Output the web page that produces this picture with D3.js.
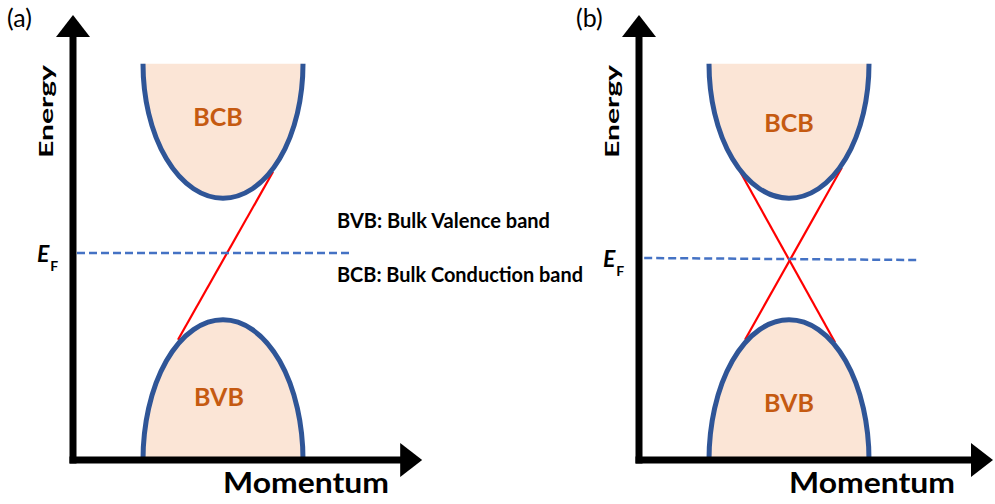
<!DOCTYPE html>
<html>
<head>
<meta charset="utf-8">
<script src="https://cdn.jsdelivr.net/npm/d3@7"></script>
<style>
  body { margin: 0; background: #fff; }
  svg { display: block; font-family: Lato, "Open Sans", sans-serif; }
</style>
</head>
<body>
<div id="chart"></div>
<script>
// schematic band structure, energy / momentum in arbitrary units
var panelLabels = ["(a)", "(b)"];
var axisTitles = ["Energy", "Momentum"];
var bandNames = ["BCB", "BVB"];
var notes = ["BVB: Bulk Valence band", "BCB: Bulk Conduction band"];

var momentumMin = -1.875;
var momentumMax = [2.49, 2.55];      // arrow tips of the two panels
var energyMin = -2.5125, energyMax = 3.05;

var conductionBand = [2.44, 0.76];   // [rim energy, band minimum]
var valenceBand = [-2.5125, -0.76];  // [base energy, band maximum]
var bandHalfWidth = 1;

// Fermi level, [k0, E0, k1, E1] per panel
var fermiLevel = [[-1.825, 0.075, 1.61, 0.075], [-1.81, 0.0125, 1.6, -0.0125]];

// surface states (red), [panel, k0, E0, k1, E1]
var surfaceStates = [
  [0, -0.5625, -1.01, 0.625, 1.09],
  [1, -0.61, 1.09, 0.575, -1.04],
  [1, 0.66, 1.14, -0.55, -1.01]
];

var width = 995, height = 504;
var svg = d3.select("#chart").append("svg")
  .attr("width", width)
  .attr("height", height);

var origins = [73, 639];
var unit = 80;
var fontBold = 700;

panelLabels.forEach(function(label, p) {
  var ox = origins[p];
  var x = d3.scaleLinear()
    .domain([momentumMin, momentumMax[p]])
    .range([ox, ox + unit * (momentumMax[p] - momentumMin)]);
  var y = d3.scaleLinear()
    .domain([energyMin, energyMax])
    .range([460, 15]);
  var g = svg.append("g");

  // surface states
  g.selectAll("line.ss")
    .data(surfaceStates.filter(function(d) { return d[0] === p; }))
    .enter().append("line")
      .attr("class", "ss")
      .attr("x1", function(d) { return x(d[1]); })
      .attr("y1", function(d) { return y(d[2]); })
      .attr("x2", function(d) { return x(d[3]); })
      .attr("y2", function(d) { return y(d[4]); })
      .attr("stroke", "#ff0000")
      .attr("stroke-width", 2.2);

  // fermi level
  var f = fermiLevel[p];
  g.append("line")
    .attr("x1", x(f[0])).attr("y1", y(f[1]))
    .attr("x2", x(f[2])).attr("y2", y(f[3]))
    .attr("stroke", "#4472c4")
    .attr("stroke-width", 2.5)
    .attr("stroke-dasharray", "8,4");

  // bands as half ellipses
  var cx = x(0), rx = x(bandHalfWidth) - x(0);
  var cbY = y(conductionBand[0]), cbR = y(conductionBand[1]) - cbY;
  var vbY = y(valenceBand[0]), vbR = vbY - y(valenceBand[1]);
  var cbPath = "M" + (cx - rx) + "," + cbY + " A" + rx + "," + cbR + " 0 0 0 " + (cx + rx) + "," + cbY;
  var vbPath = "M" + (cx - rx) + "," + vbY + " A" + rx + "," + vbR + " 0 0 1 " + (cx + rx) + "," + vbY;
  [cbPath, vbPath].forEach(function(d) {
    g.append("path").attr("d", d + " Z").attr("fill", "#fbe5d6");
    g.append("path").attr("d", d).attr("fill", "none")
      .attr("stroke", "#2f5597").attr("stroke-width", 5);
  });

  // band labels
  g.append("text")
    .attr("x", cx - (p === 0 ? 5 : 0)).attr("y", (p === 0 ? 117 : 123) + 9)
    .attr("text-anchor", "middle")
    .attr("font-size", 25).attr("font-weight", fontBold)
    .attr("fill", "#c55a11")
    .text(bandNames[0]);
  g.append("text")
    .attr("x", cx - (p === 0 ? 4 : 0)).attr("y", (p === 0 ? 397 : 403) + 9)
    .attr("text-anchor", "middle")
    .attr("font-size", 25).attr("font-weight", fontBold)
    .attr("fill", "#c55a11")
    .text(bandNames[1]);

  // axes
  var tipX = x(momentumMax[p]), tipY = y(energyMax), oy = y(energyMin);
  g.append("line")
    .attr("x1", ox).attr("y1", oy + 3.5)
    .attr("x2", ox).attr("y2", tipY + 20)
    .attr("stroke", "#000").attr("stroke-width", 7);
  g.append("line")
    .attr("x1", ox - 3.5).attr("y1", oy)
    .attr("x2", tipX - 20).attr("y2", oy)
    .attr("stroke", "#000").attr("stroke-width", 7);
  g.append("path")
    .attr("d", "M" + (ox - 17) + "," + (tipY + 22) + " L" + ox + "," + tipY + " L" + (ox + 17) + "," + (tipY + 22) + " Z")
    .attr("fill", "#000");
  g.append("path")
    .attr("d", "M" + (tipX - 22) + "," + (oy - 17) + " L" + tipX + "," + oy + " L" + (tipX - 22) + "," + (oy + 17) + " Z")
    .attr("fill", "#000");

  // axis titles
  g.append("text")
    .attr("transform", "translate(" + (ox - 20.5) + "," + 111.5 + ") rotate(-90)")
    .attr("text-anchor", "middle")
    .attr("font-size", 19).attr("font-weight", fontBold)
    .attr("textLength", 93).attr("lengthAdjust", "spacingAndGlyphs")
    .text(axisTitles[0]);
  g.append("text")
    .attr("x", ox + 150).attr("y", 493)
    .attr("font-size", 29).attr("font-weight", fontBold)
    .attr("textLength", 166).attr("lengthAdjust", "spacingAndGlyphs")
    .text(axisTitles[1]);

  // E_F label
  var ef = g.append("text")
    .attr("x", ox - 36).attr("y", y(f[1]) + 8.5)
    .attr("font-weight", fontBold);
  ef.append("tspan").attr("font-size", 23).attr("font-style", "italic").text("E");
  ef.append("tspan").attr("font-size", 14).attr("dx", 1).attr("dy", 9).text("F");

  // panel label
  svg.append("text")
    .attr("x", p === 0 ? 7 : 576).attr("y", 27)
    .attr("font-size", 25)
    .text(label);
});

// notes
svg.selectAll("text.note")
  .data(notes)
  .enter().append("text")
    .attr("class", "note")
    .attr("x", 337)
    .attr("y", function(d, i) { return i === 0 ? 228 : 282; })
    .attr("font-size", 20).attr("font-weight", fontBold)
    .attr("textLength", function(d, i) { return i === 0 ? 213 : 246; })
    .attr("lengthAdjust", "spacingAndGlyphs")
    .text(function(d) { return d; });
</script>
</body>
</html>
